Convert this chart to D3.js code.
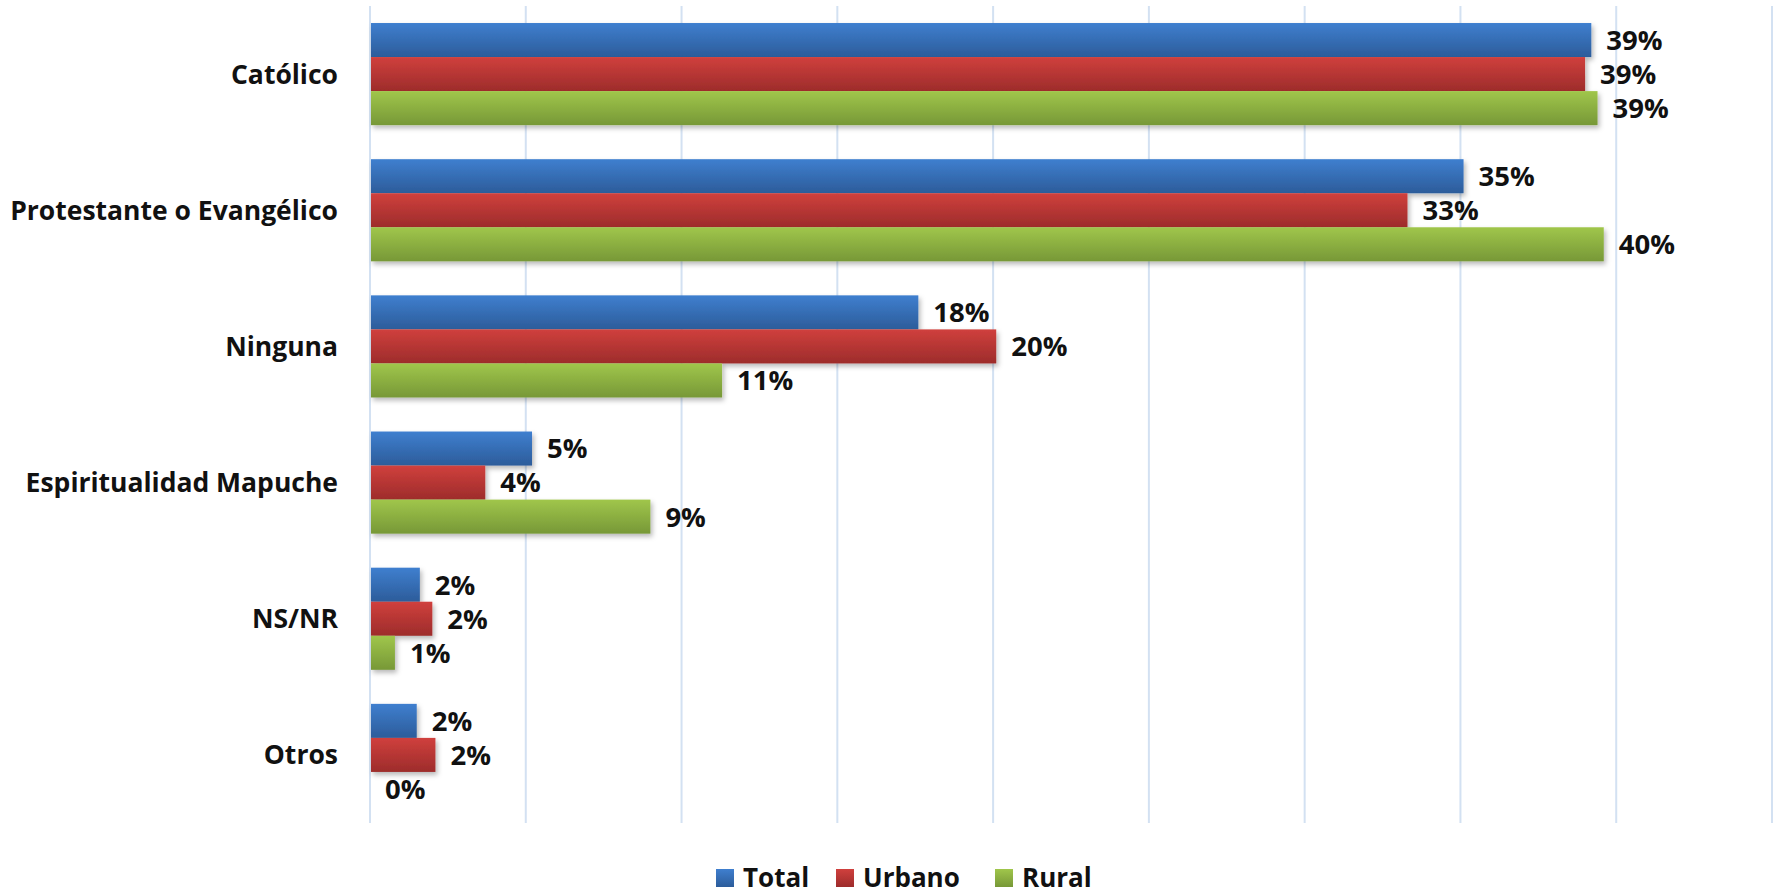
<!DOCTYPE html>
<html>
<head>
<meta charset="utf-8">
<script src="https://cdn.jsdelivr.net/npm/d3@7"></script>
<style>
  body { margin: 0; background: #fff; }
  text { font-family: "Open Sans", "Noto Sans", sans-serif; font-weight: bold; fill: #111; }
</style>
</head>
<body>
<div id="chart-area"></div>
<script>
// Data
var categories = ["Católico", "Protestante o Evangélico", "Ninguna",
                  "Espiritualidad Mapuche", "NS/NR", "Otros"];
var series = ["Total", "Urbano", "Rural"];
var totalValues  = [39.2, 35.1, 17.6, 5.2, 1.6, 1.5];
var urbanoValues = [39.0, 33.3, 20.1, 3.7, 2.0, 2.1];
var ruralValues  = [39.4, 39.6, 11.3, 9.0, 0.8, 0.0];
var gridTicks = [0, 5, 10, 15, 20, 25, 30, 35, 40, 45];

var colors = {
  "Total":  ["#3f7fcf", "#2c5c9a"],
  "Urbano": ["#d0403d", "#9d2c2b"],
  "Rural":  ["#a0c64b", "#779837"]
};

var W = 1777, H = 894;
var margin = { left: 370, right: 5, top: 6, bottom: 71 };
var width = W - margin.left - margin.right,
    height = H - margin.top - margin.bottom;

var svg = d3.select("#chart-area")
    .append("svg")
    .attr("width", W)
    .attr("height", H);

var defs = svg.append("defs");
Object.keys(colors).forEach(function(k){
    var grad = defs.append("linearGradient")
        .attr("id", "grad-" + k)
        .attr("x1", 0).attr("y1", 0).attr("x2", 0).attr("y2", 1);
    grad.append("stop").attr("offset", "0%").attr("stop-color", colors[k][0]);
    grad.append("stop").attr("offset", "100%").attr("stop-color", colors[k][1]);
});
var shadow = defs.append("filter").attr("id", "shadow")
    .attr("x", "-10%").attr("y", "-10%").attr("width", "130%").attr("height", "140%");
shadow.append("feDropShadow")
    .attr("dx", 2).attr("dy", 3).attr("stdDeviation", 2.5)
    .attr("flood-color", "#000").attr("flood-opacity", 0.28);

var g = svg.append("g")
    .attr("transform", "translate(" + margin.left + "," + margin.top + ")");

// Scales
var x = d3.scaleLinear().domain([0, 45]).range([0, width]);
var y0 = d3.scaleBand().domain(categories).range([0, height])
    .paddingInner(0.25).paddingOuter(0.125);
var y1 = d3.scaleBand().domain(series).range([0, y0.bandwidth()]);

// Gridlines
g.append("g").attr("class", "grid")
    .selectAll("line").data(gridTicks).enter()
    .append("line")
    .attr("x1", function(d){ return x(d); })
    .attr("x2", function(d){ return x(d); })
    .attr("y1", 0).attr("y2", height)
    .attr("stroke", "#d3e1f2")
    .attr("stroke-width", 2);

// Category labels
g.append("g").selectAll("text").data(categories).enter()
    .append("text")
    .attr("x", -32)
    .attr("y", function(d){ return y0(d) + y0.bandwidth() / 2; })
    .attr("dy", "0.36em")
    .attr("text-anchor", "end")
    .attr("font-size", "26.5px")
    .text(function(d){ return d; });

// Bars
var rows = categories.map(function(c, i){
    return { cat: c, vals: [
        { key: "Total", value: totalValues[i] },
        { key: "Urbano", value: urbanoValues[i] },
        { key: "Rural", value: ruralValues[i] }
    ]};
});

var groups = g.selectAll(".group").data(rows).enter()
    .append("g")
    .attr("class", "group")
    .attr("transform", function(d){ return "translate(0," + y0(d.cat) + ")"; });

groups.append("g").attr("filter", "url(#shadow)")
    .selectAll("rect").data(function(d){ return d.vals; }).enter()
    .append("rect")
    .attr("x", x(0) + 1)
    .attr("y", function(d){ return y1(d.key); })
    .attr("height", y1.bandwidth())
    .attr("width", function(d){ return Math.max(0, x(d.value) - x(0) - 1); })
    .attr("fill", function(d){ return "url(#grad-" + d.key + ")"; });

groups.selectAll(".val").data(function(d){ return d.vals; }).enter()
    .append("text")
    .attr("class", "val")
    .attr("x", function(d){ return x(d.value) + 15; })
    .attr("y", function(d){ return y1(d.key) + y1.bandwidth() / 2; })
    .attr("dy", "0.36em")
    .attr("font-size", "27.5px")
    .text(function(d){ return Math.round(d.value) + "%"; });

// Legend
var legendX = [716, 836, 995];
var legend = svg.append("g").selectAll("g").data(series).enter()
    .append("g")
    .attr("transform", function(d, i){ return "translate(" + legendX[i] + ",869)"; });
legend.append("rect")
    .attr("width", 18).attr("height", 18)
    .attr("fill", function(d){ return "url(#grad-" + d + ")"; });
legend.append("text")
    .attr("x", 27).attr("y", 18)
    .attr("font-size", "26px")
    .text(function(d){ return d; });
</script>
</body>
</html>
